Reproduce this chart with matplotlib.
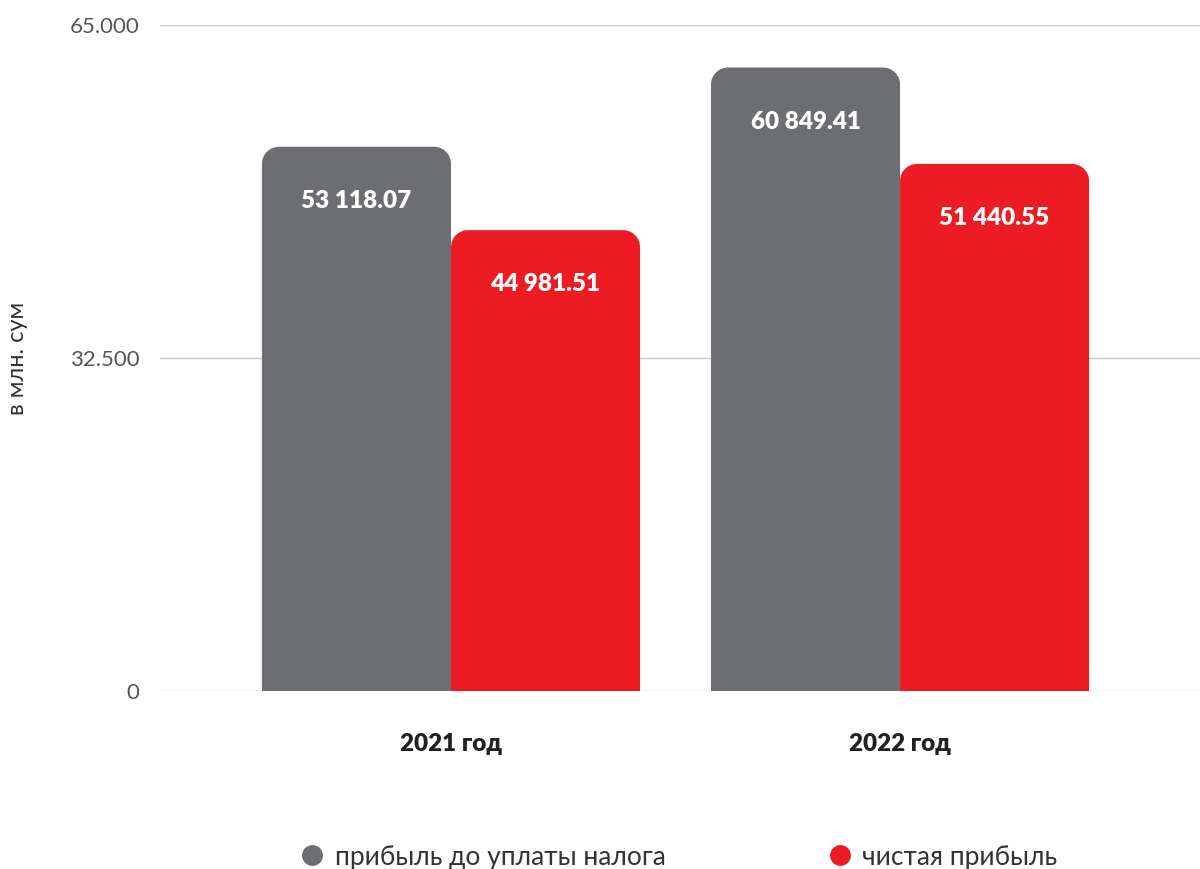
import matplotlib
matplotlib.use("Agg")
import matplotlib.pyplot as plt
from matplotlib.path import Path
from matplotlib.patches import PathPatch
from matplotlib.lines import Line2D
from matplotlib.ticker import FixedLocator

categories = ["2021 год", "2022 год"]
series_names = ["прибыль до уплаты налога", "чистая прибыль"]
profit_before_tax = [53118.07, 60849.41]
net_profit = [44981.51, 51440.55]
value_labels_before = ["53 118.07", "60 849.41"]
value_labels_net = ["44 981.51", "51 440.55"]
yticks = [0, 32500, 65000]
ytick_labels = ["0", "32.500", "65.000"]

GREY = "#6d6e72"
RED = "#ed1c24"
FONT = ["Lato", "DejaVu Sans"]

fig = plt.figure(figsize=(12, 8.69), dpi=100)
ax = fig.add_axes([160/1200, 1-691/869, 1040/1200, (691-25)/869])

bw = 0.421
x = [0, 1]
b1 = ax.bar([xi - bw/2 for xi in x], profit_before_tax, width=bw, color=GREY, zorder=2)
b2 = ax.bar([xi + bw/2 for xi in x], net_profit, width=bw, color=RED, zorder=2)

ax.set_xlim(-0.648, 1.668)
ax.set_ylim(0, 65000)

# rounded top corners
px_x = (1.668 + 0.648) / 1040.0
px_y = 65000 / 666.0
r = 17
rx, ry = r * px_x, r * px_y
k = 0.5523
for bars in (b1, b2):
    for rect in bars:
        x0, y0 = rect.get_x(), rect.get_y()
        w, h = rect.get_width(), rect.get_height()
        x1, y1 = x0 + w, y0 + h
        verts = [(x0, y0), (x0, y1 - ry),
                 (x0, y1 - ry + k*ry), (x0 + rx - k*rx, y1), (x0 + rx, y1),
                 (x1 - rx, y1),
                 (x1 - rx + k*rx, y1), (x1, y1 - ry + k*ry), (x1, y1 - ry),
                 (x1, y0), (x0, y0)]
        codes = [Path.MOVETO, Path.LINETO,
                 Path.CURVE4, Path.CURVE4, Path.CURVE4,
                 Path.LINETO,
                 Path.CURVE4, Path.CURVE4, Path.CURVE4,
                 Path.LINETO, Path.CLOSEPOLY]
        p = PathPatch(Path(verts, codes), facecolor=rect.get_facecolor(),
                      edgecolor="none", zorder=2)
        rect.set_visible(False)
        ax.add_patch(p)

off = 54 * px_y
for bars, labels in ((b1, value_labels_before), (b2, value_labels_net)):
    for rect, lab in zip(bars, labels):
        ax.text(rect.get_x() + rect.get_width()/2, rect.get_height() - off, lab,
                ha="center", va="center", color="white", fontsize=17.5,
                fontweight="heavy", family=FONT, zorder=3)

ax.yaxis.set_major_locator(FixedLocator(yticks))
ax.set_yticklabels(ytick_labels, family=FONT, fontweight="normal",
                   fontsize=16, color="#555555")
ax.tick_params(axis="y", length=0, pad=15)
ax.grid(axis="y", color="#c8c8c8", linewidth=1, zorder=0)
ax.set_axisbelow(True)
ax.set_xticks(x)
ax.set_xticklabels(categories, family=FONT, fontweight="heavy", fontsize=17.5,
                   color="#222222")
ax.tick_params(axis="x", length=0, pad=30)
for s in ax.spines.values():
    s.set_visible(False)

fig.text(18/1200, 1-358/869, "в млн. сум", rotation=90, ha="center",
         va="center", fontsize=17, family=FONT, fontweight="normal",
         color="#333333")

handles = [Line2D([], [], marker="o", linestyle="none", markersize=14,
                  markerfacecolor=c, markeredgecolor=c) for c in (GREY, RED)]
fig.legend(handles, series_names, loc="center",
           bbox_to_anchor=(678/1200, 1-857/869), ncol=2, frameon=False,
           prop={"family": FONT, "size": 19, "weight": "normal"},
           columnspacing=6.1, handletextpad=0.35, handlelength=1.0,
           labelcolor="#333333")

fig.savefig("out.png", dpi=100)
